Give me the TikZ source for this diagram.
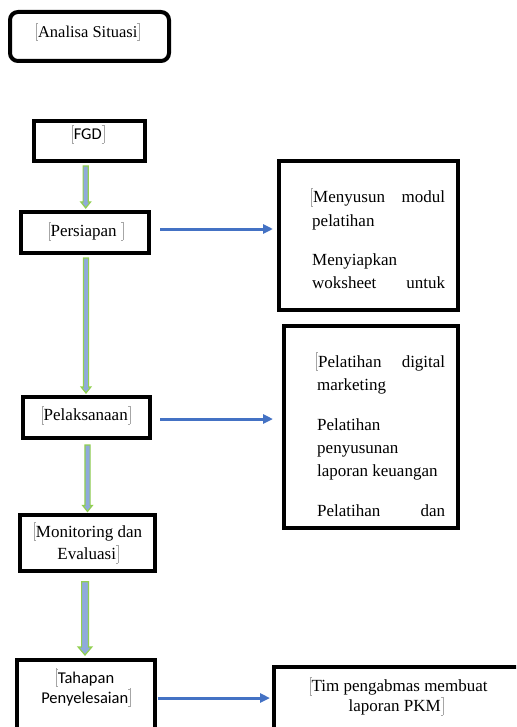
\documentclass[tikz,border=0pt]{standalone}
\usepackage{fontspec}
\setmainfont{Liberation Serif}
\newfontfamily\calfont{Carlito}
\usetikzlibrary{arrows.meta,calc}

\definecolor{gline}{HTML}{92D050}
\definecolor{gfill}{HTML}{8FAADC}
\definecolor{bline}{HTML}{4472C4}

\newcommand{\LB}{\textcolor{black!35}{\rule[-0.22em]{0.5pt}{1.1em}\kern-0.5pt\rule[-0.22em]{0.12em}{0.5pt}\kern-0.12em\rule[0.83em]{0.12em}{0.5pt}}}
\newcommand{\RB}{\textcolor{black!35}{\rule[-0.22em]{0.12em}{0.5pt}\kern-0.12em\rule[0.83em]{0.12em}{0.5pt}\rule[-0.22em]{0.5pt}{1.1em}}}

\newcommand{\garrow}[5]{\draw[garrowsty] let \p1=(#1), \p2=(#2) in
  (\x1-#3,\y1) -- (\x1+#3,\y1) -- (\x1+#3,\y2+#5) -- (\x1+#4,\y2+#5) -- (\x1,\y2)
  -- (\x1-#4,\y2+#5) -- (\x1-#3,\y2+#5) -- cycle;}

\tikzset{
  box/.style={draw, line width=4pt, inner sep=0pt, outer sep=2pt},
  serif/.style={inner sep=0pt, font=\fontsize{17}{20}\selectfont},
  sans/.style={inner sep=0pt, font=\calfont\fontsize{16.5}{19}\selectfont},
  garrowsty/.style={draw=gline, fill=gfill, line width=1.2pt, line join=miter},
  barrow/.style={draw=bline, line width=3pt, -{Triangle[length=10pt,width=9pt]}},
}

\begin{document}
\begin{tikzpicture}[x=1pt,y=-1pt]
\useasboundingbox (0,0) rectangle (516,727);
\clip (0,0) rectangle (516,727);

% boxes
\node[box, rounded corners=8pt, minimum width=159pt, minimum height=49pt] (analisa) at (89.5,36.5) {};
\node[box, minimum width=111pt, minimum height=40pt] (fgd) at (89.5,141) {};
\node[box, minimum width=128pt, minimum height=41pt] (persiapan) at (85,232.5) {};
\node[box, minimum width=127pt, minimum height=41pt] (pelaksanaan) at (86.5,417.5) {};
\node[box, minimum width=135pt, minimum height=56pt] (monitoring) at (87.5,543) {};
\node[box, minimum width=138pt, minimum height=80pt] (tahapan) at (86,700) {};
\node[box, minimum width=179pt, minimum height=149pt] (box1) at (368.5,235.5) {};
\node[box, minimum width=174pt, minimum height=202pt] (box2) at (371,427) {};
\node[box, minimum width=256pt, minimum height=73pt] (tim) at (402,703.5) {};

% texts
\node[serif, font=\fontsize{16.5}{20}\selectfont, anchor=base] (tA) at (88,37.3) {\LB Analisa Situasi\RB};
\node[sans, anchor=base] (tF) at (88,139.5) {\LB FGD\RB};
\node[serif, anchor=base] (tP) at (86,236.5) {\LB Persiapan \RB};
\node[serif, anchor=base] (tPl) at (86,420.5) {\LB Pelaksanaan\RB};
\node[serif, anchor=base] (tM1) at (88,537) {\LB Monitoring dan};
\node[serif, anchor=base] (tM2) at (88,559.5) {Evaluasi\RB};
\node[sans, anchor=base] (tT1) at (85,683) {\LB Tahapan};
\node[sans, anchor=base] (tT2) at (86,703) {Penyelesaian\RB};
\node[serif, anchor=base] (tTim1) at (398.5,691.5) {\LB Tim pengabmas membuat};
\node[serif, anchor=base] (tTim2) at (396,711.5) {laporan PKM\RB};

\node[serif, anchor=base west] (b1a) at (311,203) {\makebox[134pt][s]{\LB Menyusun modul}};
\node[serif, anchor=base west] (b1b) at (312,226) {pelatihan};
\node[serif, anchor=base west] (b1c) at (312,265) {Menyiapkan};
\node[serif, anchor=base west] (b1d) at (312,288) {\makebox[133pt][s]{woksheet untuk}};

\node[serif, anchor=base west] (b2a) at (316,367) {\makebox[129pt][s]{\LB Pelatihan digital}};
\node[serif, anchor=base west] (b2b) at (317,390) {marketing};
\node[serif, anchor=base west] (b2c) at (317,430) {Pelatihan};
\node[serif, anchor=base west] (b2d) at (317,453) {penyusunan};
\node[serif, anchor=base west] (b2e) at (317,476) {laporan keuangan};
\node[serif, anchor=base west] (b2f) at (317,516) {\makebox[128pt][s]{Pelatihan dan}};

% green block arrows
\garrow{$(fgd.south)+(-3.8,3)$}{$(persiapan.north)+(0,-2)$}{2.6pt}{4.8pt}{6pt}
\garrow{$(persiapan.south)+(1,3)$}{$(pelaksanaan.north)+(0,-2)$}{2.6pt}{4.8pt}{6pt}
\garrow{$(pelaksanaan.south)+(1,5)$}{$(monitoring.north)+(0,-1.5)$}{2.6pt}{4.8pt}{6pt}
\garrow{$(monitoring.south)+(-2.5,8.7)$}{$(tahapan.north)+(0,-3)$}{3.4pt}{6.8pt}{8pt}

% blue arrows
\draw[barrow] let \p1=($(persiapan.east)+(9,-3.5)$), \p2=($(box1.west)+(-4,0)$) in (\p1) -- (\x2,\y1);
\draw[barrow] let \p1=($(pelaksanaan.east)+(8,1.5)$), \p2=($(box2.west)+(-9,0)$) in (\p1) -- (\x2,\y1);
\draw[barrow] let \p1=($(tahapan.east)+(0.5,-2)$), \p2=($(tim.west)+(-2,0)$) in (\p1) -- (\x2,\y1);
\end{tikzpicture}
\end{document}
